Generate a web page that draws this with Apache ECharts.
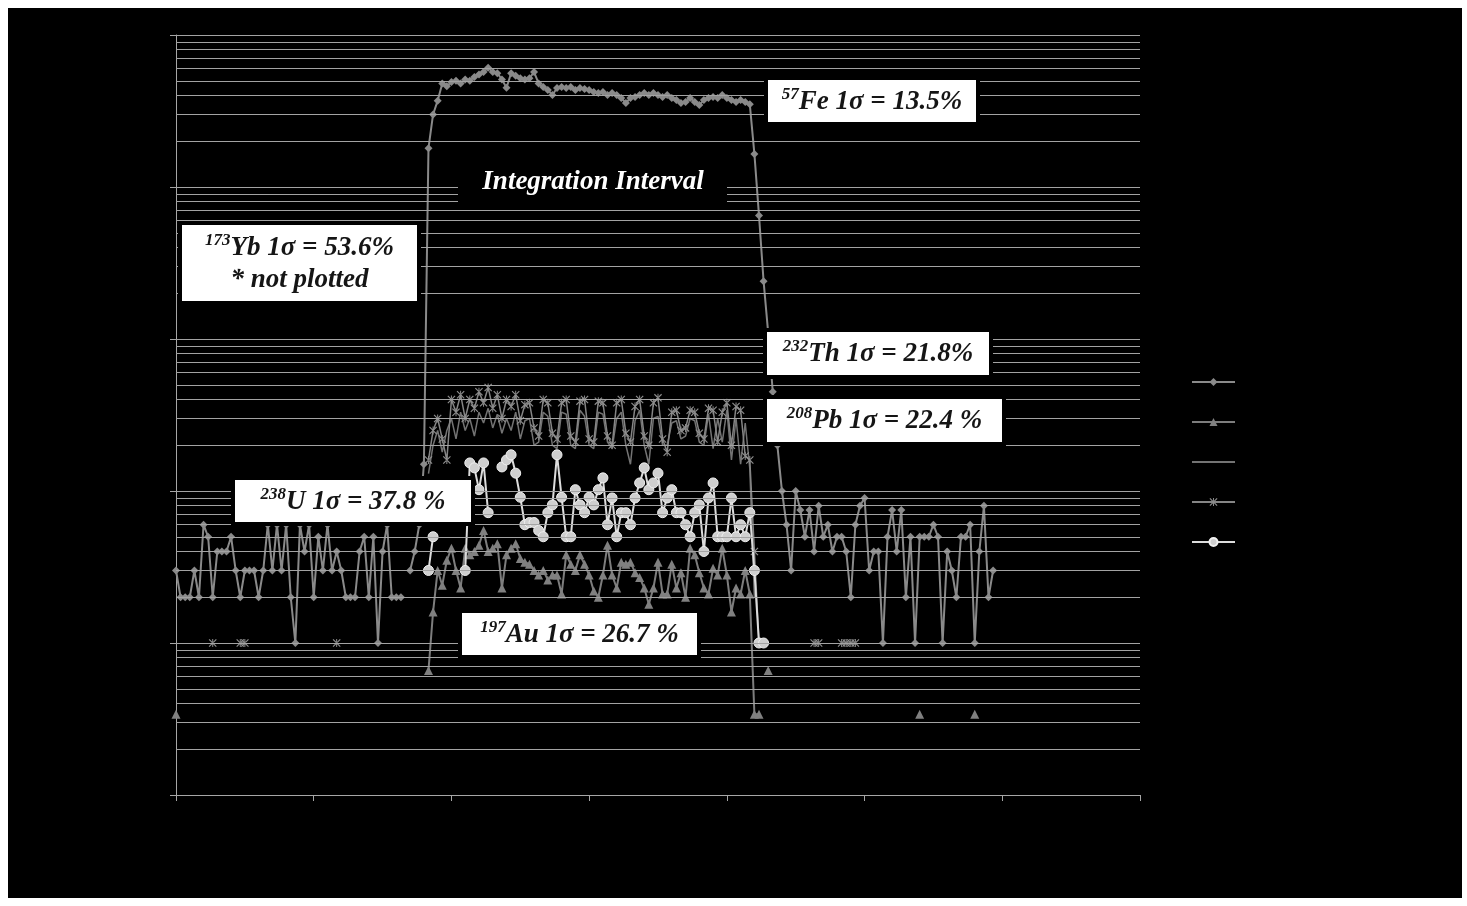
<!DOCTYPE html>
<html>
<head>
<meta charset="utf-8">
<script src="https://cdn.jsdelivr.net/npm/echarts@6/dist/echarts.min.js"></script>
<style>
html, body { margin: 0; padding: 0; background: #fff; width: 1467px; height: 906px; overflow: hidden; }
#main { position: absolute; left: 8px; top: 8px; width: 1454px; height: 890px; background: #000; }
</style>
</head>
<body>
<div id="main"></div>
<script>
// blanks = zero counts, not drawn on the log axis
var gap = function (n) { return Array(n).fill(null); };

// x: sweep number, ticks every 30 sweeps
var xTicks = [0, 30, 60, 90, 120, 150, 180, 210];

// count rates (log scale)
var fe57 = [
  30,20,20,20,30,20,60,50,20,40,
  40,40,50,30,20,30,30,30,20,30,
  60,30,60,30,60,20,10,60,40,60,
  20,50,30,60,30,40,30,20,20,20,
  40,50,20,50,10,40,60,20,20,20,
  null,30,40,60,150,18000,30000,37000,48000,46000,
  49000,50000,48000,51000,50000,53000,55000,57000,61000,57000,
  56000,51000,45000,56000,54000,52000,51000,52000,57000,48000,
  45500,43500,40300,44800,45500,44800,45500,43400,44800,44100,
  43400,42200,41500,42200,40300,41500,40300,38500,35700,38500,
  39100,40300,41500,40300,41500,40300,39100,40300,38500,37400,
  35700,36300,38500,36300,34600,37400,38500,39100,38500,40300,
  38500,37400,36300,37400,36300,35000,16500,6500,2400,1100,
  450,200,100,60,30,100,75,50,75,40,
  80,50,60,40,50,50,40,20,60,80,
  90,30,40,40,10,50,75,40,75,20,
  50,10,50,50,50,60,50,10,40,30,
  20,50,50,60,10,40,80,20,30
];

var au197 = [3.4].concat(gap(54), [
  6.6,16,30,24,35, 42,30,23,42,38, 40,44,55,40,42, 45,23,38,42,45,
  36,34,33,30,28, 30,26,28,28,21, 38,33,30,38,33, 28,22,20,28,44,
  28,23,34,33,34, 29,27,23,18,23, 34,21,21,33,23, 29,20,42,38,29,
  23,21,31,28,42, 28,16,23,21,30, 21,3.4,3.4,null,6.6
], gap(32), [3.4], gap(11), [3.4]);

var pb208 = gap(55).concat([
  130,200,250,180,250, 300,220,330,250,300, 230,330,280,350,260, 320,240,300,250,330,
  220,290,300,200,210, 330,310,200,190,330, 320,200,190,340,310, 200,190,330,320,210,
  190,300,330,200,150, 290,340,200,150,300, 310,200,200,280,290, 220,230,300,290,210,
  200,320,190,300,210, 340,160,300,150,280, 140,20
]);

var th232 = gap(8).concat([10], gap(5), [10, 10], gap(19), [10], gap(19), [
  160,250,300,220,160, 400,330,430,300,400, 350,450,380,480,350, 430,300,400,360,430,
  290,370,380,260,230, 400,380,240,220,380, 400,230,210,390,400, 220,210,390,380,230,
  200,380,400,240,210, 360,400,230,200,380, 410,220,180,330,340, 250,260,340,330,240,
  220,350,340,210,330, 380,200,360,340,170, 160,40,10
], gap(11), [10, 10], gap(4), [10, 10, 10, 10]);

var u238 = gap(55).concat([30, 50], gap(6), [
  30,153,142,102,153,72,null,null,
  144,160,173,131,91, 60,62,62,55,50,
  72,81,173,91,50, 50,102,81,72,91,
  81,102,122,60,90, 50,72,72,60,90,
  113,142,102,113,131, 72,90,102,72,72,
  60,50,72,81,40, 90,113,50,50,50,
  90,50,60,50,72, 30,10,10
]);

var seriesNames = ['57Fe', '197Au', '208Pb', '232Th', '238U'];

// log grid lines 2..9 per decade, plus decades
var gridValues = [];
for (var k = 0; k < 5; k++) {
  for (var m = 1; m <= 10; m++) {
    if (m === 1 && k === 0) continue;
    if (m === 10 && k < 4) continue;
    gridValues.push(m * Math.pow(10, k));
  }
}

var pts = function (arr) { return arr.map(function (v, i) { return [i, v]; }); };

var serif = 'Liberation Serif, Times New Roman, serif';
var rich = {
  s: { fontSize: 17, fontFamily: serif, fontStyle: 'italic', fontWeight: 'bold', fill: '#151515', verticalAlign: 'top' },
  m: { fontSize: 27, fontFamily: serif, fontStyle: 'italic', fontWeight: 'bold', fill: '#151515', lineHeight: 32 }
};

// white label box with a thin black margin
function labelBox(x0, y0, x1, y1, text) {
  return [
    { type: 'rect', z: 10, shape: { x: x0 - 4, y: y0 - 4, width: x1 - x0 + 8, height: y1 - y0 + 8 }, style: { fill: '#000' } },
    { type: 'rect', z: 11, shape: { x: x0, y: y0, width: x1 - x0, height: y1 - y0 }, style: { fill: '#fff' } },
    { type: 'text', z: 12, x: (x0 + x1) / 2, y: (y0 + y1) / 2 + 1,
      style: { text: text, rich: rich, align: 'center', verticalAlign: 'middle' } }
  ];
}

var graphics = [].concat(
  labelBox(760, 72, 968, 114, '{s|57}{m|Fe 1σ = 13.5%}'),
  labelBox(174, 217, 409, 293, '{s|173}{m|Yb 1σ = 53.6%}\n{m|* not plotted}'),
  labelBox(759, 324, 981, 367, '{s|232}{m|Th 1σ = 21.8%}'),
  labelBox(759, 391, 994, 434, '{s|208}{m|Pb 1σ = 22.4 %}'),
  labelBox(227, 472, 463, 514, '{s|238}{m|U 1σ = 37.8 %}'),
  labelBox(454, 605, 689, 647, '{s|197}{m|Au 1σ = 26.7 %}'),
  [
    { type: 'rect', z: 10, shape: { x: 450, y: 155, width: 269, height: 44 }, style: { fill: '#000' } },
    { type: 'text', z: 12, x: 585, y: 174,
      style: { text: 'Integration Interval', fill: '#fff', align: 'center', verticalAlign: 'middle',
               font: 'italic bold 27px ' + serif } },
    { type: 'rect', z: 2, shape: { x: 463, y: 479, width: 57, height: 30 }, style: { fill: '#000' } },
    { type: 'rect', z: 2, shape: { x: 668, y: 384, width: 21, height: 56 }, style: { fill: '#000' } }
  ]
);

var asterisk = 'path://M4.4,0h1.2v10h-1.2z M0,1l1,-1l9,9l-1,1z M10,1l-1,-1l-9,9l1,1z';

var myChart = echarts.init(document.getElementById('main'));
var option = {
  backgroundColor: '#000',
  animation: false,
  grid: { left: 168, top: 27, width: 964, height: 760 },
  legend: {
    data: [
      seriesNames[0],
      seriesNames[1],
      { name: seriesNames[2], itemStyle: { opacity: 0 } },
      seriesNames[3],
      seriesNames[4]
    ],
    orient: 'vertical',
    left: 1178,
    top: 363,
    itemWidth: 43,
    itemHeight: 10,
    itemGap: 28,
    textStyle: { color: '#000', fontSize: 12 }
  },
  xAxis: {
    type: 'value',
    min: xTicks[0],
    max: xTicks[xTicks.length - 1],
    interval: xTicks[1] - xTicks[0],
    axisLine: { show: true, onZero: false, lineStyle: { color: '#a6a6a6', width: 1 } },
    axisTick: { show: true, length: 6, lineStyle: { color: '#a6a6a6' } },
    axisLabel: { color: '#000' },
    splitLine: { show: false }
  },
  yAxis: {
    type: 'log',
    logBase: 10,
    min: 1,
    max: 100000,
    axisLine: { show: true, onZero: false, lineStyle: { color: '#a6a6a6', width: 1 } },
    axisTick: { show: true, length: 6, lineStyle: { color: '#a6a6a6' } },
    axisLabel: { color: '#000' },
    splitLine: { show: false }
  },
  graphic: graphics,
  series: [
    {
      name: 'grid', type: 'line', data: [], z: 1, silent: true,
      markLine: {
        silent: true, symbol: ['none', 'none'], animation: false,
        label: { show: false },
        lineStyle: { color: '#a3a3a3', width: 1, type: 'solid' },
        emphasis: { disabled: true },
        data: gridValues.map(function (v) { return { yAxis: v }; })
      }
    },
    {
      name: seriesNames[0], type: 'line', z: 3, data: pts(fe57),
      symbol: 'diamond', symbolSize: 8, showAllSymbol: true,
      lineStyle: { color: '#8a8a8a', width: 2 }, itemStyle: { color: '#8a8a8a' }
    },
    {
      name: seriesNames[1], type: 'line', z: 3, data: pts(au197),
      symbol: 'triangle', symbolSize: 9, showAllSymbol: true,
      lineStyle: { color: '#7d7d7d', width: 2 }, itemStyle: { color: '#808080' }
    },
    {
      name: seriesNames[2], type: 'line', z: 3, data: pts(pb208),
      symbol: 'none',
      lineStyle: { color: '#737373', width: 1.5 }, itemStyle: { color: '#8c8c8c' }
    },
    {
      name: seriesNames[3], type: 'line', z: 3, data: pts(th232),
      symbol: asterisk, symbolSize: 8, showAllSymbol: true,
      lineStyle: { color: '#858585', width: 1.5 }, itemStyle: { color: '#8f8f8f' }
    },
    {
      name: seriesNames[4], type: 'line', z: 4, data: pts(u238),
      symbol: 'circle', symbolSize: 10, showAllSymbol: true,
      lineStyle: { color: '#dcdcdc', width: 2 },
      itemStyle: { color: '#cfcfcf', borderColor: '#f0f0f0', borderWidth: 1 }
    }
  ]
};
myChart.setOption(option);
</script>
</body>
</html>
